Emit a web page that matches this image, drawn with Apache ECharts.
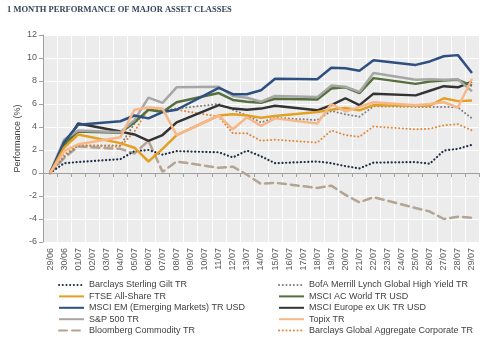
<!DOCTYPE html>
<html>
<head>
<meta charset="utf-8">
<script src="https://cdn.jsdelivr.net/npm/echarts@6/dist/echarts.min.js"></script>
<style>html,body{margin:0;padding:0;background:#fff;}#c{width:500px;height:360px;}</style>
</head>
<body>
<div id="c"></div>
<script>
// Categories (calendar days); weekends have no observation (null) and are bridged by the line
var categories = ['29/06','30/06','01/07','02/07','03/07','04/07','05/07','06/07','07/07','08/07','09/07','10/07','11/07','12/07','13/07','14/07','15/07','16/07','17/07','18/07','19/07','20/07','21/07','22/07','23/07','24/07','25/07','26/07','27/07','28/07','29/07'];
var yTicks = [-6, -4, -2, 0, 2, 4, 6, 8, 10, 12];

var giltTR      = [0, 0.85, 0.95, null, null, 1.2, 1.9, 2.0, 1.6, 1.9, null, null, 1.8, 1.35, 1.95, 1.45, 0.85, null, null, 1.0, 0.85, 0.6, 0.4, 0.9, null, null, 0.95, 0.8, 1.95, 2.1, 2.45];
var bofaHY      = [0, 1.4, 2.4, null, null, 2.4, 4.3, 5.6, 5.4, 5.6, null, null, 6.0, 5.5, 5.0, 4.4, 4.8, null, null, 4.6, 5.4, 5.1, 4.9, 5.8, null, null, 5.75, 5.75, 5.75, 5.7, 4.75];
var ftseAll     = [0, 2.2, 3.35, null, null, 2.6, 2.2, 1.0, 2.1, 3.3, null, null, 5.0, 5.1, 5.0, 4.8, 4.95, null, null, 5.3, 5.5, 5.65, 5.45, 5.9, null, null, 5.85, 5.85, 6.5, 6.25, 6.3];
var msciACWorld = [0, 2.5, 3.6, null, null, 3.5, 4.4, 5.5, 5.3, 6.15, null, null, 6.95, 6.35, 6.2, 6.1, 6.45, null, null, 6.4, 7.35, 7.45, 6.95, 8.25, null, null, 7.75, 7.95, 8.05, 8.1, 7.6];
var msciEM      = [0, 2.7, 4.2, null, null, 4.5, 5.0, 4.75, 5.3, 5.5, null, null, 7.4, 6.85, 6.85, 7.2, 8.2, null, null, 8.15, 9.15, 9.1, 8.9, 9.8, null, null, 9.4, 9.7, 10.15, 10.25, 8.7];
var msciEurExUK = [0, 2.4, 4.3, null, null, 3.6, 3.35, 2.8, 3.3, 4.4, null, null, 5.9, 5.6, 5.5, 5.6, 5.85, null, null, 5.45, 5.9, 6.5, 5.9, 6.9, null, null, 6.75, 7.15, 7.55, 7.45, 7.95];
var sp500       = [0, 2.9, 3.7, null, null, 3.55, 4.6, 6.55, 6.1, 7.45, null, null, 7.5, 6.7, 6.55, 6.2, 6.7, null, null, 6.6, 7.6, 7.5, 7.05, 8.7, null, null, 8.1, 8.15, 8.1, 8.15, 7.1];
var topix       = [0, 1.9, 2.5, null, null, 3.1, 5.5, 5.7, 5.6, 3.3, null, null, 5.0, 3.8, 4.85, 4.1, 4.75, null, null, 4.3, 6.0, 5.35, 5.75, 6.15, null, null, 5.9, 6.0, 6.15, 5.7, 8.2];
var commodity   = [0, 1.3, 2.3, null, null, 2.1, 1.7, 2.8, 0.1, 1.0, null, null, 0.45, 0.55, -0.15, -0.95, -0.85, null, null, -1.3, -1.1, -1.9, -2.55, -2.1, null, null, -3.05, -3.35, -4.0, -3.8, -3.9];
var globalCorp  = [0, 1.6, 2.4, null, null, 2.3, 3.6, 5.6, 5.4, 5.5, null, null, 4.9, 3.45, 3.45, 2.8, 2.9, null, null, 2.65, 3.7, 3.3, 3.15, 4.05, null, null, 3.8, 3.85, 4.15, 4.25, 3.7];

var names = {
  gilt: 'Barclays Sterling Gilt TR',
  bofa: 'BofA Merrill Lynch Global High Yield TR',
  ftse: 'FTSE All-Share TR',
  acw: 'MSCI AC World TR USD',
  em: 'MSCI EM (Emerging Markets) TR USD',
  eur: 'MSCI Europe ex UK TR USD',
  sp: 'S&P 500 TR',
  topix: 'Topix TR',
  comm: 'Bloomberg Commodity TR',
  corp: 'Barclays Global Aggregate Corporate TR'
};

function line(name, data, color, width, type, z) {
  return {
    name: name, type: 'line', data: data, connectNulls: true,
    symbol: 'none', z: z || 2,
    lineStyle: { color: color, width: width, type: type || 'solid', cap: type && type !== 'solid' ? 'round' : 'butt' },
    itemStyle: { color: color }
  };
}

var chart = echarts.init(document.getElementById('c'), null, { renderer: 'canvas' });
var legendText = { fontFamily: 'Liberation Sans, Arial, sans-serif', fontSize: 9, color: '#404040', lineHeight: 10 };
var legendCommon = { orient: 'vertical', top: 280, itemWidth: 25, itemHeight: 10, itemGap: 1.4,
  itemStyle: { opacity: 0 }, textStyle: legendText, padding: 0 };
chart.setOption({
  animation: false,
  backgroundColor: '#ffffff',
  title: {
    text: '1 MONTH PERFORMANCE OF MAJOR ASSET CLASSES',
    left: 7, top: 5, padding: 0,
    textStyle: { fontFamily: 'Liberation Serif, DejaVu Serif, serif', fontWeight: 'bold', fontSize: 8.5, color: '#34445a' }
  },
  grid: { left: 43, right: 21, top: 35, bottom: 118, show: true, backgroundColor: '#ececec', borderWidth: 0 },
  legend: [
    Object.assign({}, legendCommon, { left: 58, data: [names.gilt, names.ftse, names.em, names.sp, names.comm] }),
    Object.assign({}, legendCommon, { left: 278, data: [names.bofa, names.acw, names.eur, names.topix, names.corp] })
  ],
  xAxis: {
    type: 'category', data: categories, boundaryGap: true,
    axisLine: { onZero: true, lineStyle: { color: '#a0a0a0', width: 1 } },
    axisTick: { show: true, length: 4, lineStyle: { color: '#a0a0a0' } },
    axisLabel: { interval: 0, rotate: 90, margin: 6, fontSize: 9, color: '#595959', fontFamily: 'Liberation Sans, Arial, sans-serif' },
    splitLine: { show: true, lineStyle: { color: '#ffffff', width: 1 } }
  },
  yAxis: {
    type: 'value', min: yTicks[0], max: yTicks[yTicks.length - 1], interval: 2,
    name: 'Performance (%)', nameLocation: 'middle', nameGap: 21, nameMoveOverlap: false,
    nameTextStyle: { fontSize: 9, color: '#404040', fontFamily: 'Liberation Sans, Arial, sans-serif' },
    axisLine: { show: true, lineStyle: { color: '#a0a0a0' } },
    axisTick: { show: true, length: 4, lineStyle: { color: '#a0a0a0' } },
    axisLabel: { fontSize: 9, color: '#595959', margin: 6, fontFamily: 'Liberation Sans, Arial, sans-serif' },
    splitLine: { show: true, lineStyle: { color: '#ffffff', width: 1 } }
  },
  series: [
    line(names.comm, commodity, '#b3a494', 2.5, [8, 5], 2),
    line(names.gilt, giltTR, '#1f2a44', 2.2, [0.1, 3.6], 3),
    line(names.bofa, bofaHY, '#7f7f7f', 2, [0.1, 3.6], 3),
    line(names.corp, globalCorp, '#e0883a', 2, [0.1, 3.6], 3),
    line(names.eur, msciEurExUK, '#333333', 2.5, 'solid', 4),
    line(names.acw, msciACWorld, '#55703d', 2.5, 'solid', 4),
    line(names.sp, sp500, '#a6a6a6', 2.5, 'solid', 4),
    line(names.em, msciEM, '#2e5080', 2.5, 'solid', 5),
    line(names.ftse, ftseAll, '#e3a023', 2.5, 'solid', 5),
    line(names.topix, topix, '#f6b888', 2.5, 'solid', 6)
  ]
});
</script>
</body>
</html>
